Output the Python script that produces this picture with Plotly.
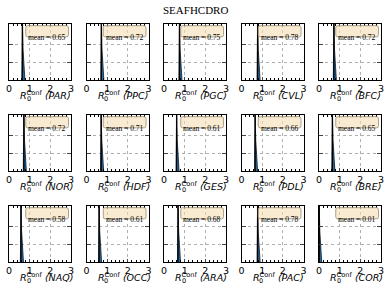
import plotly.graph_objects as go

title = "SEAFHCDRO"
regions = ["PAR", "PPC", "PGC", "CVL", "BFC",
           "NOR", "HDF", "GES", "PDL", "BRE",
           "NAQ", "OCC", "ARA", "PAC", "COR"]
means = [0.65, 0.72, 0.75, 0.78, 0.72,
         0.72, 0.71, 0.61, 0.66, 0.65,
         0.58, 0.61, 0.68, 0.78, 0.01]
# shared relative histogram profile around the mean (offsets in R0 units, relative density)
profile_offsets = [-0.03, 0.0, 0.03, 0.06, 0.09, 0.12]
profile_heights = [0.0, 1.0, 0.55, 0.25, 0.08, 0.0]
x_ticks = [0, 1, 2, 3]
y_ticks = [0.32, 0.64]

W, H = 391, 292
col_left = [9, 86.5, 164, 241.5, 319]
row_top = [24, 115, 206]
pw, ph = 62, 56

fig = go.Figure()
shapes = []
annotations = []

for i, (reg, m) in enumerate(zip(regions, means)):
    r, c = divmod(i, 5)
    ax = "" if i == 0 else str(i + 1)
    xa, ya = "x" + ax, "y" + ax
    x0 = col_left[c] / W
    x1 = (col_left[c] + pw) / W
    y1 = 1 - row_top[r] / H
    y0 = 1 - (row_top[r] + ph) / H
    xs = [m + o for o in profile_offsets]
    fig.add_trace(go.Scatter(x=xs, y=profile_heights, xaxis=xa, yaxis=ya,
                             mode="lines", fill="toself", fillcolor="#1f6fb0",
                             line=dict(color="black", width=0.7), hoverinfo="skip",
                             showlegend=False))
    fig.add_trace(go.Scatter(x=[m, m], y=[0, 1.0], xaxis=xa, yaxis=ya, mode="lines",
                             line=dict(color="black", width=1.3), showlegend=False))
    axis_common = dict(showline=True, linecolor="black", linewidth=1, mirror="allticks",
                       ticks="inside", showgrid=True, gridcolor="#b0b0b0",
                       griddash="dot", gridwidth=0.7, zeroline=False, automargin=False)
    fig.update_layout({
        "xaxis" + ax: dict(domain=[x0, x1], anchor=ya, range=[0, 3], tickvals=x_ticks,
                           ticklen=3, tickfont=dict(family="DejaVu Sans", size=9.5, color="black"),
                           minor=dict(ticks="inside", ticklen=2, dtick=0.2, showgrid=False,
                                      tickcolor="black"),
                           **axis_common),
        "yaxis" + ax: dict(domain=[y0, y1], anchor=xa, range=[0, 1.0], tickvals=y_ticks,
                           showticklabels=False, ticklen=4, **axis_common),
    })
    # rounded legend box in axis-domain coordinates
    bx0, bx1, by0, by1 = 0.27, 0.96, 0.77, 0.97
    rx, ry = 0.03, 0.04
    path = (f"M {bx0+rx},{by0} L {bx1-rx},{by0} Q {bx1},{by0} {bx1},{by0+ry} "
            f"L {bx1},{by1-ry} Q {bx1},{by1} {bx1-rx},{by1} L {bx0+rx},{by1} "
            f"Q {bx0},{by1} {bx0},{by1-ry} L {bx0},{by0+ry} Q {bx0},{by0} {bx0+rx},{by0} Z")
    shapes.append(dict(type="path", path=path, xref=xa + " domain", yref=ya + " domain",
                       fillcolor="rgba(245,222,179,0.6)", line=dict(color="#9a8a70", width=0.8),
                       layer="above"))
    annotations.append(dict(text=f"mean = {m:.2f}", x=(bx0 + bx1) / 2, y=(by0 + by1) / 2,
                            xref=xa + " domain", yref=ya + " domain", showarrow=False,
                            font=dict(family="Liberation Serif", size=7.5, color="black")))
    # x label: R with stacked sub 0 and sup Conf
    lx = (col_left[c] + 9) / W
    ly = 1 - (row_top[r] + ph + 15) / H
    annotations.append(dict(text=f"<i>R</i><sup>Conf</sup> <i>({reg})</i>",
                            x=lx, y=ly, xref="paper", yref="paper", showarrow=False,
                            xanchor="left", yanchor="middle",
                            font=dict(family="DejaVu Sans", size=9.5, color="black")))
    annotations.append(dict(text="0", x=lx + 6.5 / W, y=ly - 3.5 / H, xref="paper", yref="paper",
                            showarrow=False, xanchor="left", yanchor="middle",
                            font=dict(family="DejaVu Sans", size=6.5, color="black")))

annotations.append(dict(text=title, x=0.5, y=1 - 10 / H, xref="paper", yref="paper",
                        showarrow=False, yanchor="middle",
                        font=dict(family="Liberation Serif", size=11, color="black")))

fig.update_layout(width=W, height=H, margin=dict(l=0, r=0, t=0, b=0, autoexpand=False),
                  plot_bgcolor="white", paper_bgcolor="white",
                  shapes=shapes, annotations=annotations, showlegend=False)
fig.write_html("out.html", config={"displayModeBar": False},
               post_script="document.body.style.margin='0';document.body.style.overflow='hidden';")
